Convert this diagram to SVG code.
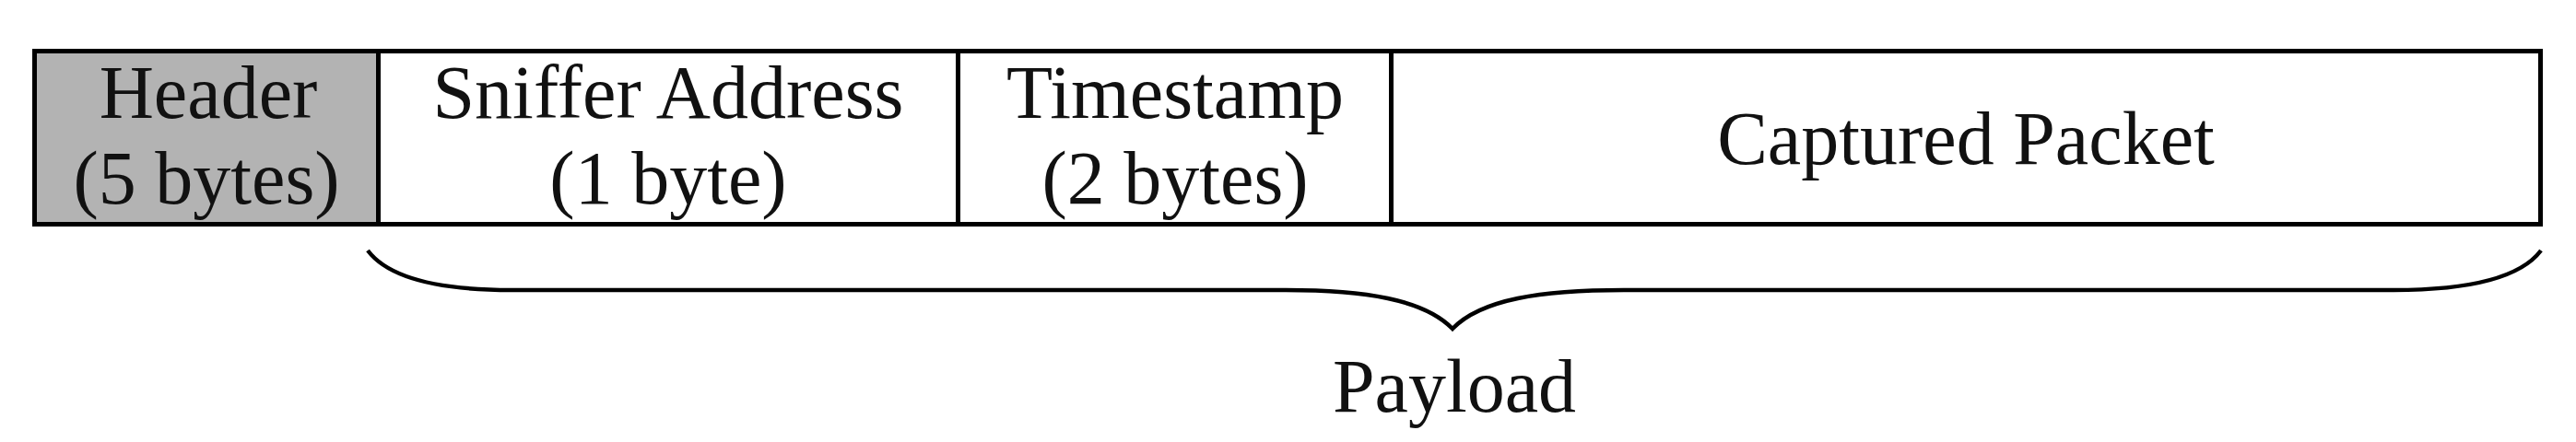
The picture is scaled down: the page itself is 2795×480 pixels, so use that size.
<svg xmlns="http://www.w3.org/2000/svg" width="2795" height="480" viewBox="0 0 2795 480">
<style>
.cell{stroke:#000;stroke-width:5;fill:#fff}
.hdr{fill:#b3b3b3}
.t{font-family:"Liberation Serif","Times New Roman",serif;font-size:82px;fill:#111;text-anchor:middle}
.brace{fill:none;stroke:#000;stroke-width:4.5;stroke-linejoin:miter}
</style>
<rect x="0" y="0" width="2795" height="480" fill="#fff"/>
<g id="header">
<rect class="cell hdr" x="37.5" y="55.5" width="373" height="188"/>
<text class="t" x="226" y="128">Header</text>
<text class="t" x="224" y="221">(5 bytes)</text>
</g>
<g id="sniffer">
<rect class="cell" x="410.5" y="55.5" width="629" height="188"/>
<text class="t" x="725" y="128">Sniffer Address</text>
<text class="t" x="725" y="221">(1 byte)</text>
</g>
<g id="timestamp">
<rect class="cell" x="1039.5" y="55.5" width="470" height="188"/>
<text class="t" x="1275" y="128">Timestamp</text>
<text class="t" x="1275" y="221">(2 bytes)</text>
</g>
<g id="captured">
<rect class="cell" x="1509.5" y="55.5" width="1247" height="188"/>
<text class="t" x="2133" y="178">Captured Packet</text>
</g>
<g id="connectors">
<path class="brace" d="M399,272 C420,300 470,315 555,315 L1395,315 C1480,315 1545,325 1576,357 C1607,325 1672,315 1762,315 L2597,315 C2682,315 2736,300 2757,272"/>
</g>
<g id="payload">
<text class="t" x="1578" y="447">Payload</text>
</g>
</svg>
